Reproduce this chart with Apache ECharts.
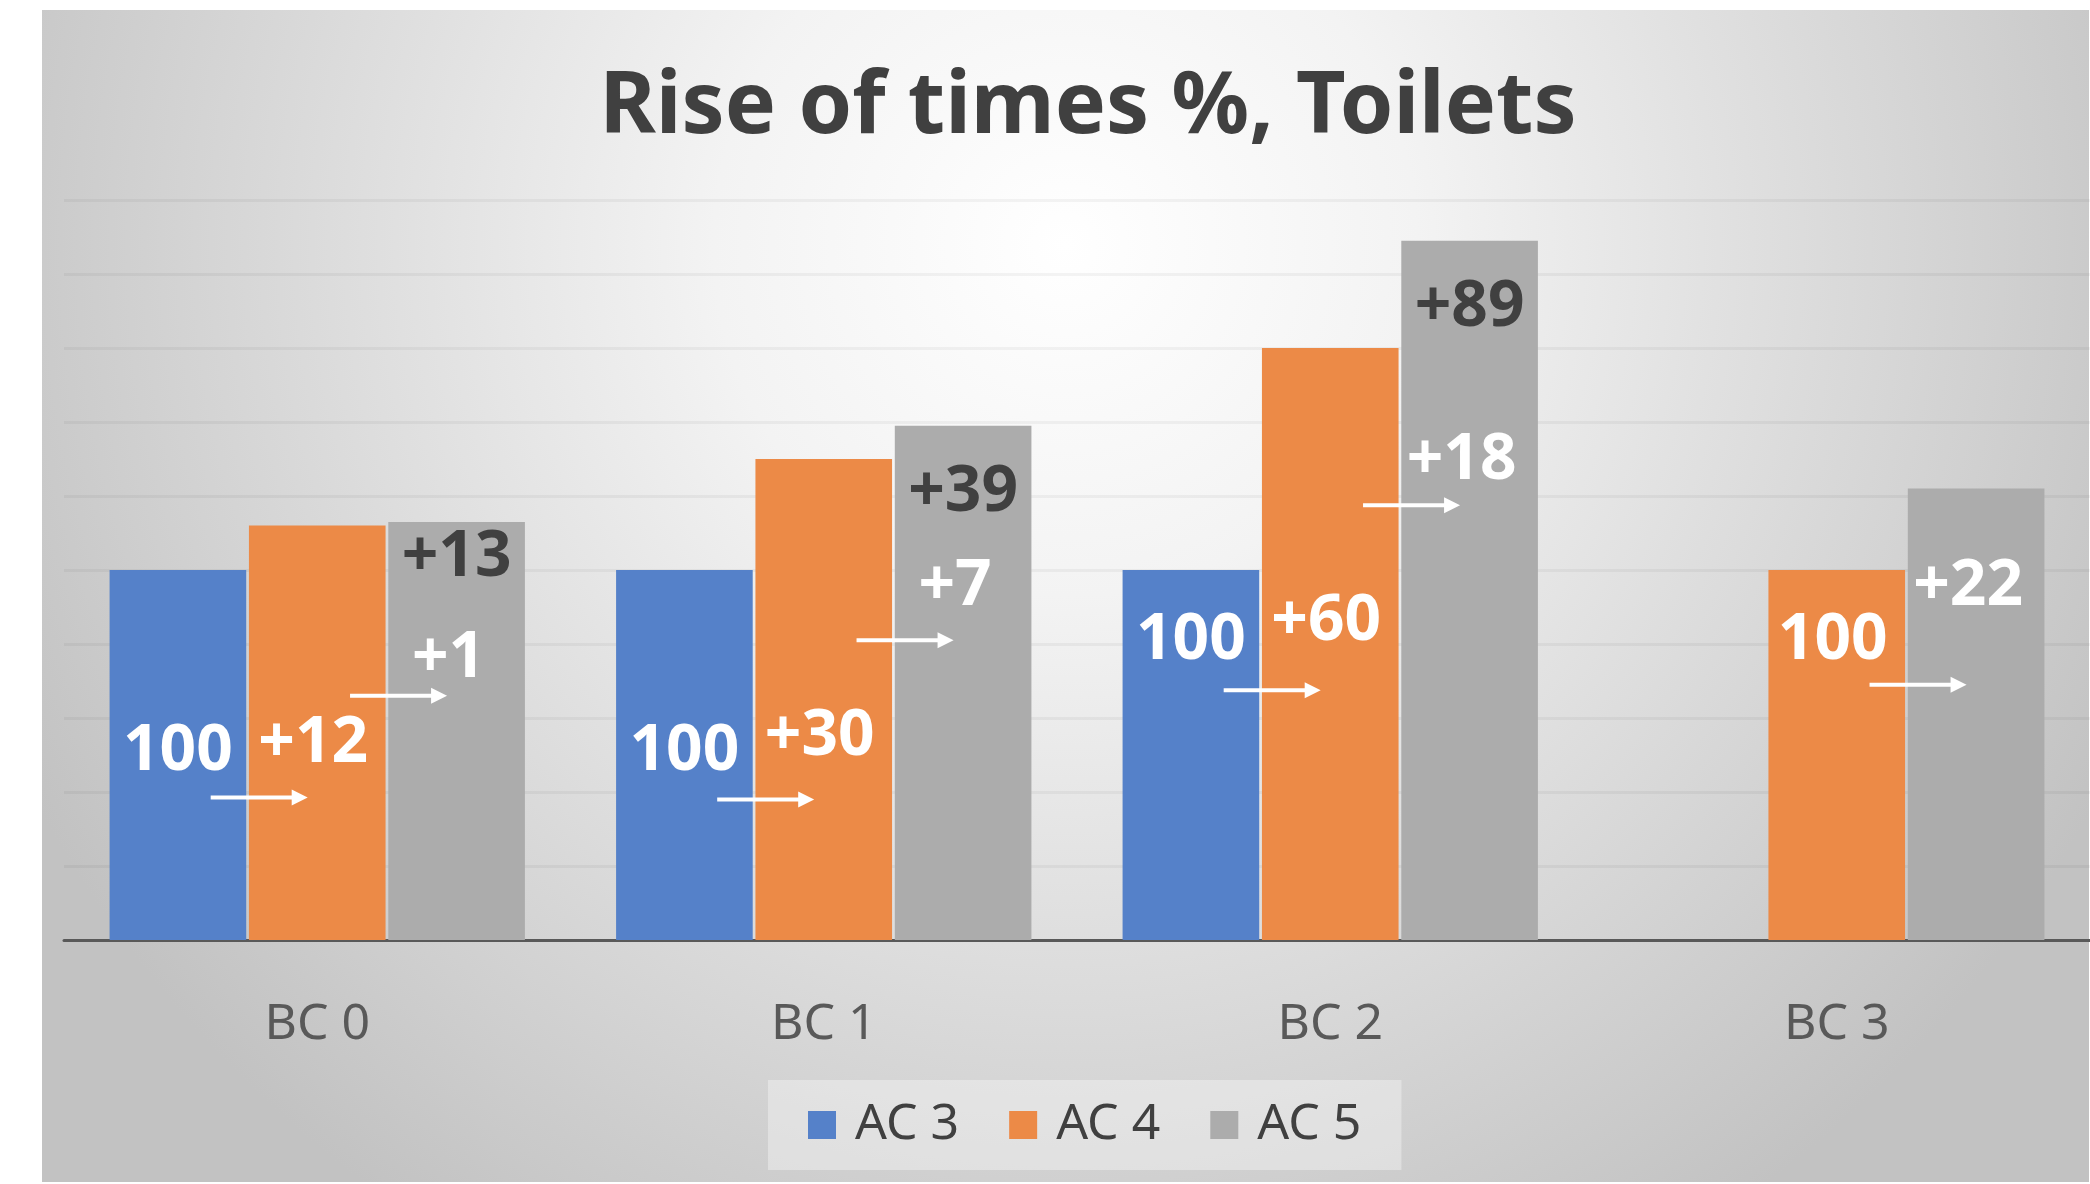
<!DOCTYPE html>
<html>
<head>
<meta charset="utf-8">
<title>Rise of times %, Toilets</title>
<script src="https://cdn.jsdelivr.net/npm/echarts@6/dist/echarts.min.js"></script>
<style>
  html, body { margin: 0; padding: 0; background: #fff; }
  #chart { width: 2090px; height: 1184px; }
</style>
</head>
<body>
<div id="chart"></div>
<script>
const categories = ['BC 0', 'BC 1', 'BC 2', 'BC 3'];
const seriesNames = ['AC 3', 'AC 4', 'AC 5'];
const ac3 = [100, 100, 100, null];
const ac4 = [112, 130, 160, 100];
const ac5 = [113, 139, 189, 122];
const yMax = 200;
const yStep = 20;

// where the hand-placed notes sit on each group, in axis units (layout only)
const baseNoteAt = [52, 52, 82, 82];
const riseNoteAt = [54, 56, 87, null];
const arrow1At = [38.5, 38, 67.5, null];
const stepNoteAt = [77, 96.5, 130.5, 96.5];
const arrow2At = [66, 81, 117.5, 69];
const totalNoteAt = [104.5, 122, 172, null];

const colors = ['#5581c9', '#ec8a47', '#acacac'];
const font = '"Noto Sans", "Open Sans", sans-serif';
const barGapRatio = 0.02;
const catGapRatio = 0.18;

const chart = echarts.init(document.getElementById('chart'));

// rise in % of the earlier value
function rise(from, to) { return '+' + Math.round((to / from - 1) * 100); }

function renderNotes(params, api) {
  const i = api.value(0);
  const band = api.size([1, 0])[0];
  const bw = band * (1 - catGapRatio) / (3 + 2 * barGapRatio);
  const cx = api.coord([i, 0])[0];
  const barX = k => cx + (k - 1) * bw * (1 + barGapRatio);
  const yAt = v => api.coord([i, v])[1];
  const kids = [];

  function note(k, v, text, fill, dx) {
    kids.push({
      type: 'text',
      style: {
        text: text, x: barX(k) + (dx || 0), y: yAt(v) + 4, fill: fill,
        font: 'bold 64px ' + font, align: 'center', verticalAlign: 'middle'
      }
    });
  }
  function arrow(k, v) {
    const x1 = barX(k) + 0.24 * bw;
    const x2 = barX(k) + 0.95 * bw;
    const y = yAt(v);
    kids.push({ type: 'line', shape: { x1: x1, y1: y, x2: x2 - 12, y2: y }, style: { stroke: '#fff', lineWidth: 4 } });
    kids.push({ type: 'polygon', shape: { points: [[x2, y], [x2 - 16, y - 8], [x2 - 16, y + 8]] }, style: { fill: '#fff' } });
  }

  if (ac3[i] != null) {
    note(0, baseNoteAt[i], String(ac3[i]), '#fff');
    note(1, riseNoteAt[i], rise(ac3[i], ac4[i]), '#fff', -4);
    arrow(0, arrow1At[i]);
    note(2, totalNoteAt[i], rise(ac3[i], ac5[i]), '#404040');
  } else {
    note(1, baseNoteAt[i], String(ac4[i]), '#fff', -4);
  }
  note(2, stepNoteAt[i], rise(ac4[i], ac5[i]), '#fff', -8);
  arrow(1, arrow2At[i]);

  return { type: 'group', children: kids };
}

const option = {
  animation: false,
  backgroundColor: '#fff',
  graphic: [{
    type: 'rect',
    silent: true,
    z: -10,
    shape: { x: 42, y: 10, width: 2047, height: 1172 },
    style: {
      fill: new echarts.graphic.RadialGradient(0.5, 0.2, 1.0, [
        { offset: 0, color: '#ffffff' },
        { offset: 0.3, color: '#f3f3f3' },
        { offset: 1, color: '#c2c2c2' }
      ])
    }
  }],
  title: {
    text: 'Rise of times %, Toilets',
    left: 1083,
    top: 60,
    textAlign: 'center',
    textStyle: { fontFamily: font, fontSize: 86, fontWeight: 'bold', color: '#404040' }
  },
  legend: {
    data: seriesNames,
    left: 768,
    top: 1080,
    icon: 'rect',
    itemWidth: 28,
    itemHeight: 28,
    itemGap: 50,
    padding: [20, 40],
    backgroundColor: 'rgba(255,255,255,0.35)',
    textStyle: { fontFamily: font, fontSize: 50, lineHeight: 50, color: '#404040', padding: [0, 0, 0, 14] }
  },
  grid: { left: 64, top: 200, width: 2040, height: 740 },
  xAxis: {
    type: 'category',
    data: categories,
    axisTick: { show: false },
    axisLine: { lineStyle: { color: '#595959', width: 3 } },
    axisLabel: { fontFamily: font, fontSize: 50, color: '#595959', margin: 60 }
  },
  yAxis: {
    type: 'value',
    min: 0,
    max: yMax,
    interval: yStep,
    axisLabel: { show: false },
    axisLine: { show: false },
    axisTick: { show: false },
    splitLine: { lineStyle: { color: 'rgba(0,0,0,0.045)', width: 3 } }
  },
  series: [
    { name: seriesNames[0], type: 'bar', data: ac3, itemStyle: { color: colors[0] }, barGap: (barGapRatio * 100) + '%', barCategoryGap: (catGapRatio * 100) + '%' },
    { name: seriesNames[1], type: 'bar', data: ac4, itemStyle: { color: colors[1] } },
    { name: seriesNames[2], type: 'bar', data: ac5, itemStyle: { color: colors[2] } },
    {
      name: 'notes',
      type: 'custom',
      silent: true,
      z: 5,
      clip: false,
      renderItem: renderNotes,
      data: categories.map((c, i) => [i])
    }
  ]
};

chart.setOption(option);
</script>
</body>
</html>
